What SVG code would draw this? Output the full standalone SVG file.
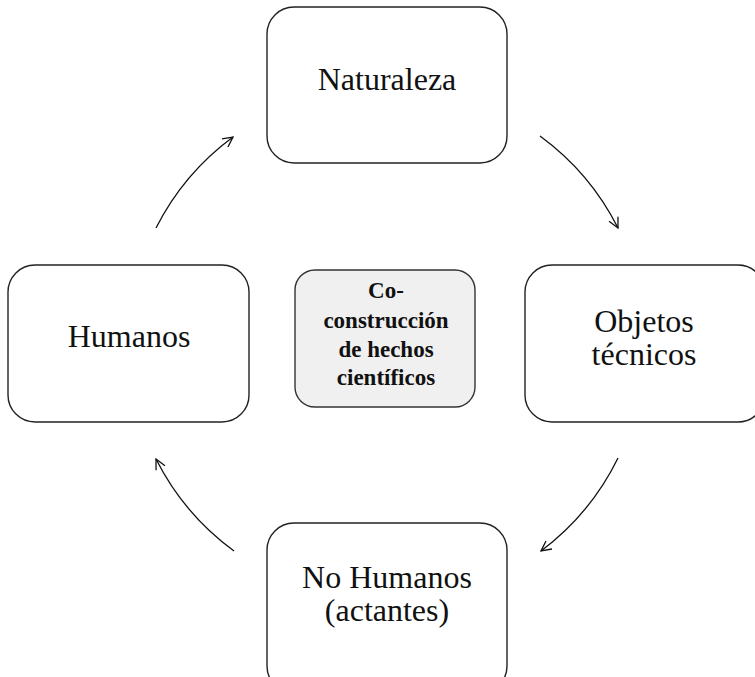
<svg xmlns="http://www.w3.org/2000/svg" width="755" height="677" viewBox="0 0 755 677">
<defs>
<style>
.box{fill:#ffffff;stroke:#222222;stroke-width:1.4}
.core{fill:#f0f0f0;stroke:#333333;stroke-width:1.4}
.lbl{font-family:"Liberation Serif","Times New Roman",serif;font-size:32px;fill:#111111;text-anchor:middle}
.bold{font-family:"Liberation Serif","Times New Roman",serif;font-size:23px;font-weight:bold;fill:#111111;text-anchor:middle}
.arc{fill:none;stroke:#111111;stroke-width:1.3;marker-end:url(#arrow)}
</style>
<marker id="arrow" viewBox="0 0 12 12" refX="11" refY="6" markerWidth="12" markerHeight="12" markerUnits="userSpaceOnUse" orient="auto">
<path d="M1,1 L11,6 L1,11" fill="none" stroke="#111111" stroke-width="1.3"/>
</marker>
</defs>
<rect width="755" height="677" fill="#ffffff"/>
<g id="connectors">
<path class="arc" d="M540,136 A258,258 0 0 1 618,228"/>
<path class="arc" d="M618,458 A258,258 0 0 1 541,551"/>
<path class="arc" d="M234,551 A258,258 0 0 1 156,459"/>
<path class="arc" d="M156,228 A258,258 0 0 1 233,137"/>
</g>
<g id="naturaleza">
<rect class="box" x="267" y="7" width="240" height="156" rx="27"/>
<text class="lbl" x="387" y="90">Naturaleza</text>
</g>
<g id="objetos">
<rect class="box" x="525" y="265" width="240" height="157" rx="27"/>
<text class="lbl" x="644" y="332">Objetos</text>
<text class="lbl" x="644" y="365">técnicos</text>
</g>
<g id="nohumanos">
<rect class="box" x="267" y="523" width="240" height="170" rx="27"/>
<text class="lbl" x="387" y="588">No Humanos</text>
<text class="lbl" x="387" y="621">(actantes)</text>
</g>
<g id="humanos">
<rect class="box" x="8" y="265" width="241" height="157" rx="27"/>
<text class="lbl" x="129" y="347">Humanos</text>
</g>
<g id="centro">
<rect class="core" x="295" y="270" width="180" height="137" rx="20"/>
<text class="bold" x="386" y="298">Co-</text>
<text class="bold" x="386" y="328">construcción</text>
<text class="bold" x="386" y="357">de hechos</text>
<text class="bold" x="386" y="385">científicos</text>
</g>
</svg>
